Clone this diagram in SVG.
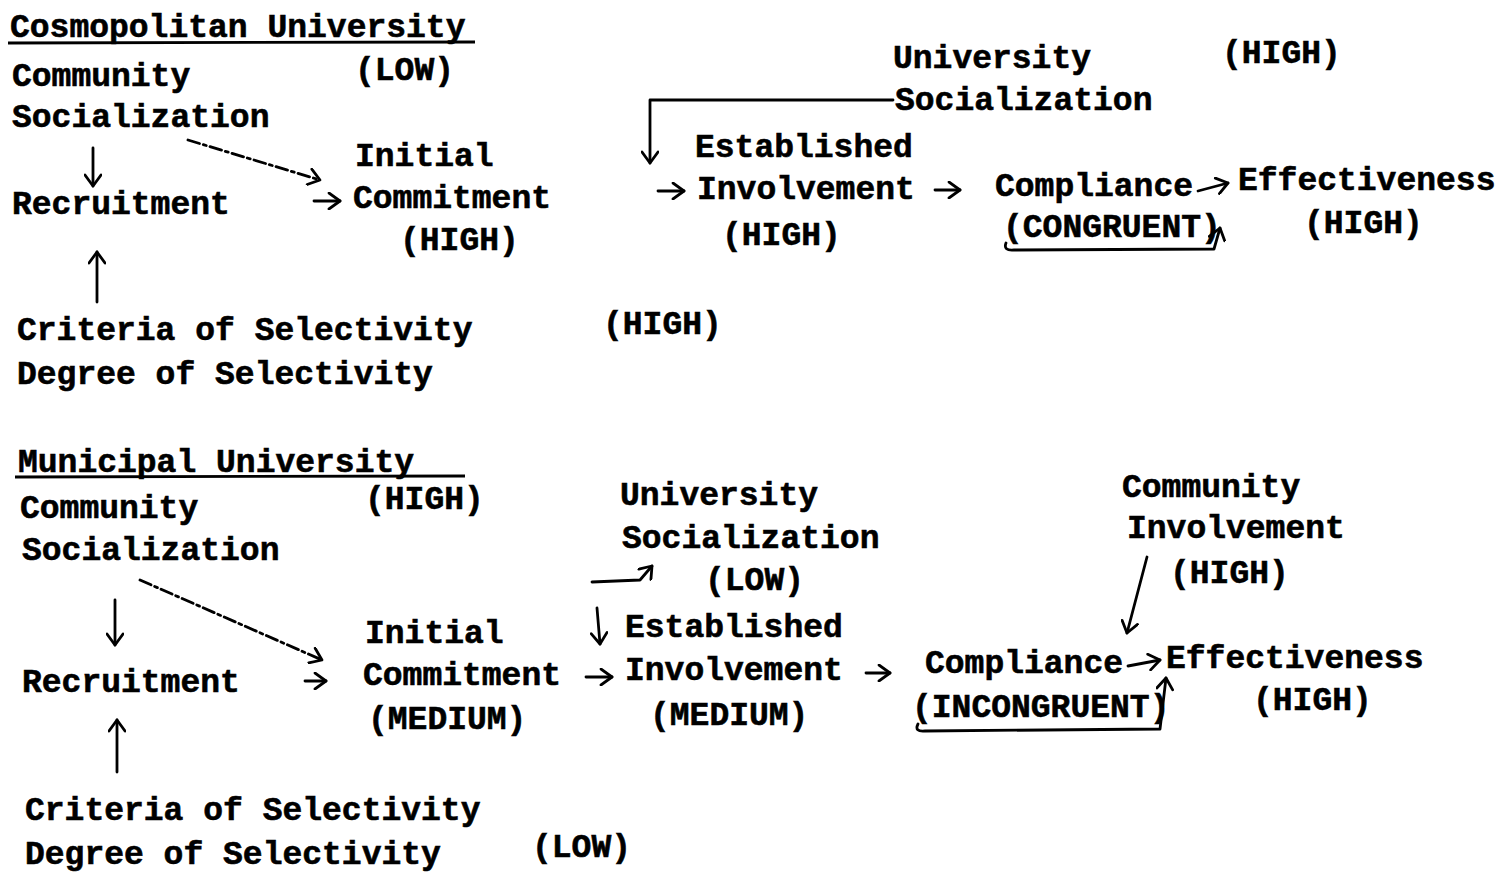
<svg xmlns="http://www.w3.org/2000/svg" width="1512" height="874" viewBox="0 0 1512 874">
  <style>
    .t { font-family: "Liberation Mono", "DejaVu Sans Mono", monospace; font-weight: bold; font-size: 33px; letter-spacing: 0; fill: #000; stroke: #000; stroke-width: 0.6; }
    .c { fill: none; stroke: #000; stroke-width: 2.8; stroke-linecap: round; stroke-linejoin: round; }
    .d { stroke-dasharray: 12 4 3 4; }
    .u { fill: none; stroke: #000; stroke-width: 2.8; }
  </style>
  <defs>
    <marker id="head" viewBox="-14 -9 16 18" refX="0" refY="0" markerWidth="16" markerHeight="18" markerUnits="userSpaceOnUse" orient="auto">
      <path d="M-11,-8 L0,0 L-11,8" fill="none" stroke="#000" stroke-width="2.8" stroke-linecap="round" stroke-linejoin="round"/>
    </marker>
  </defs>
  <rect width="1512" height="874" fill="#fff"/>

  <!-- Cosmopolitan University -->
  <g id="cosmo-title">
    <text class="t" x="10" y="37">Cosmopolitan University</text>
    <line class="u" x1="8" y1="43" x2="475" y2="42"/>
  </g>
  <g id="cosmo-community">
    <text class="t" x="12" y="86">Community</text>
    <text class="t" x="12" y="127">Socialization</text>
    <text class="t" x="355" y="80">(LOW)</text>
  </g>
  <g id="cosmo-recruitment">
    <text class="t" x="12" y="214">Recruitment</text>
  </g>
  <g id="cosmo-initial">
    <text class="t" x="355" y="166">Initial</text>
    <text class="t" x="353" y="208">Commitment</text>
    <text class="t" x="400" y="250">(HIGH)</text>
  </g>
  <g id="cosmo-criteria">
    <text class="t" x="17" y="340">Criteria of Selectivity</text>
    <text class="t" x="17" y="384">Degree of Selectivity</text>
    <text class="t" x="603" y="334">(HIGH)</text>
  </g>
  <g id="cosmo-univ-soc">
    <text class="t" x="893" y="68">University</text>
    <text class="t" x="895" y="110">Socialization</text>
    <text class="t" x="1222" y="63">(HIGH)</text>
  </g>
  <g id="cosmo-established">
    <text class="t" x="695" y="157">Established</text>
    <text class="t" x="697" y="199">Involvement</text>
    <text class="t" x="722" y="245">(HIGH)</text>
  </g>
  <g id="cosmo-compliance">
    <text class="t" x="995" y="196">Compliance</text>
    <text class="t" x="1003" y="237">(CONGRUENT)</text>
  </g>
  <g id="cosmo-effectiveness">
    <text class="t" x="1238" y="190">Effectiveness</text>
    <text class="t" x="1304" y="233">(HIGH)</text>
  </g>

  <!-- Municipal University -->
  <g id="muni-title">
    <text class="t" x="18" y="472">Municipal University</text>
    <line class="u" x1="15" y1="477" x2="465" y2="476"/>
  </g>
  <g id="muni-community">
    <text class="t" x="20" y="518">Community</text>
    <text class="t" x="22" y="560">Socialization</text>
    <text class="t" x="365" y="509">(HIGH)</text>
  </g>
  <g id="muni-recruitment">
    <text class="t" x="22" y="692">Recruitment</text>
  </g>
  <g id="muni-initial">
    <text class="t" x="365" y="643">Initial</text>
    <text class="t" x="363" y="685">Commitment</text>
    <text class="t" x="368" y="729">(MEDIUM)</text>
  </g>
  <g id="muni-criteria">
    <text class="t" x="25" y="820">Criteria of Selectivity</text>
    <text class="t" x="25" y="864">Degree of Selectivity</text>
    <text class="t" x="532" y="857">(LOW)</text>
  </g>
  <g id="muni-univ-soc">
    <text class="t" x="620" y="505">University</text>
    <text class="t" x="622" y="548">Socialization</text>
    <text class="t" x="705" y="590">(LOW)</text>
  </g>
  <g id="muni-established">
    <text class="t" x="625" y="637">Established</text>
    <text class="t" x="625" y="680">Involvement</text>
    <text class="t" x="650" y="725">(MEDIUM)</text>
  </g>
  <g id="muni-comm-inv">
    <text class="t" x="1122" y="497">Community</text>
    <text class="t" x="1127" y="538">Involvement</text>
    <text class="t" x="1170" y="583">(HIGH)</text>
  </g>
  <g id="muni-compliance">
    <text class="t" x="925" y="673">Compliance</text>
    <text class="t" x="912" y="717">(INCONGRUENT)</text>
  </g>
  <g id="muni-effectiveness">
    <text class="t" x="1166" y="668">Effectiveness</text>
    <text class="t" x="1253" y="710">(HIGH)</text>
  </g>

  <g id="connectors">
    <!-- top chain -->
    <path class="c" d="M93,148 L93,186" marker-end="url(#head)"/>
    <path class="c d" d="M188,140 L320,180" marker-end="url(#head)"/>
    <path class="c" d="M314,201 L340,201" marker-end="url(#head)"/>
    <path class="c" d="M97,302 L97,252" marker-end="url(#head)"/>
    <path class="c" d="M893,100 L650,100 L650,163" marker-end="url(#head)"/>
    <path class="c" d="M658,191 L684,191" marker-end="url(#head)"/>
    <path class="c" d="M935,190 L960,190" marker-end="url(#head)"/>
    <path class="c" d="M1198,191 L1228,183" marker-end="url(#head)"/>
    <path class="c" d="M1006,243 Q1003,251 1014,250 L1214,249 L1220,228" marker-end="url(#head)"/>
    <!-- bottom chain -->
    <path class="c" d="M115,600 L115,645" marker-end="url(#head)"/>
    <path class="c d" d="M140,580 L322,660" marker-end="url(#head)"/>
    <path class="c" d="M305,681 L326,681" marker-end="url(#head)"/>
    <path class="c" d="M117,772 L117,720" marker-end="url(#head)"/>
    <path class="c" d="M592,582 L640,580 L652,566" marker-end="url(#head)"/>
    <path class="c" d="M597,608 L600,644" marker-end="url(#head)"/>
    <path class="c" d="M586,677 L612,677" marker-end="url(#head)"/>
    <path class="c" d="M866,673 L890,673" marker-end="url(#head)"/>
    <path class="c" d="M1147,557 L1127,633" marker-end="url(#head)"/>
    <path class="c" d="M1128,666 L1160,660" marker-end="url(#head)"/>
    <path class="c" d="M918,724 Q914,732 925,731 L1160,729 L1166,678" marker-end="url(#head)"/>
  </g>
</svg>
